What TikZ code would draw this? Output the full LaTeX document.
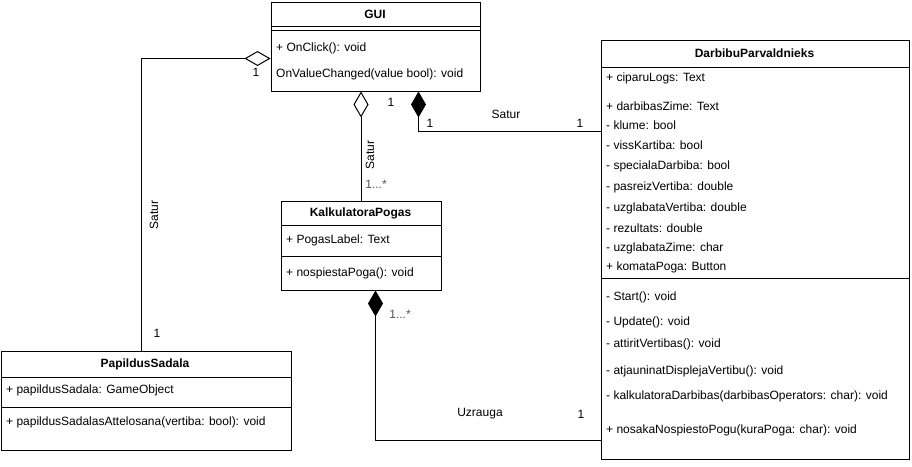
\documentclass[tikz,border=0pt]{standalone}
\usepackage{fontspec}
\setmainfont{Liberation Sans}
\usetikzlibrary{arrows.meta}
\definecolor{umlInk}{HTML}{000000}
\definecolor{umlMult}{HTML}{555555}

\begin{document}
\begin{tikzpicture}[x=1pt,y=-1pt,
		every node/.style={font=\fontsize{12}{14}\selectfont},
		cls/.style={draw=umlInk,line width=1pt,anchor=north west,inner sep=0pt},
		mem/.style={anchor=west,inner sep=0pt},
		ttl/.style={font=\fontsize{12}{14}\selectfont\bfseries,inner sep=0pt},
		lbl/.style={inner sep=0pt},
		agg/.style={draw=umlInk,line width=1pt,{Diamond[open,length=26pt,width=15pt]}-},
		comp/.style={draw=umlInk,line width=1pt,{Diamond[length=26pt,width=15pt]}-}]
		\useasboundingbox (0,0) rectangle (912,466);
		% classes
		\node[cls,minimum width=209pt,minimum height=89pt] (gui) at (270.5,1.5) {};
		\draw[line width=1pt] ([yshift=-25pt]gui.north west) -- ([yshift=-25pt]gui.north east);
		\draw[line width=1pt] ([yshift=-29pt]gui.north west) -- ([yshift=-29pt]gui.north east);
		\node[ttl] (guiT) at (375,14) {GUI};
		\node[mem] (guiM1) at (276,48) {+ OnClick(): void};
		\node[mem] (guiM2) at (276,74) {OnValueChanged(value bool): void};

		\node[cls,minimum width=308pt,minimum height=419pt] (darb) at (600.5,39.5) {};
		\draw[line width=1pt] ([yshift=-27.5pt]darb.north west) -- ([yshift=-27.5pt]darb.north east);
		\draw[line width=1pt] ([yshift=-238.5pt]darb.north west) -- ([yshift=-238.5pt]darb.north east);
		\node[ttl] (darbT) at (754.5,53) {DarbibuParvaldnieks};
		\foreach \y/\t [count=\i] in {78/{+ ciparuLogs: Text},106/{+ darbibasZime: Text},125/{- klume: bool},
				145/{- vissKartiba: bool},166/{- specialaDarbiba: bool},187/{- pasreizVertiba: double},
				208/{- uzglabataVertiba: double},228/{- rezultats: double},248/{- uzglabataZime: char},
				267/{+ komataPoga: Button}}
			\node[mem] (darbA\i) at (606,\y) {\t};
		\foreach \y/\t [count=\i] in {297/{- Start(): void},322/{- Update(): void},344/{- attiritVertibas(): void},
				371/{- atjauninatDisplejaVertibu(): void},396/{- kalkulatoraDarbibas(darbibasOperators: char): void},
				430/{+ nosakaNospiestoPogu(kuraPoga: char): void}}
			\node[mem] (darbM\i) at (606,\y) {\t};

		\node[cls,minimum width=160pt,minimum height=89pt] (kalk) at (280.5,200.5) {};
		\draw[line width=1pt] ([yshift=-24.5pt]kalk.north west) -- ([yshift=-24.5pt]kalk.north east);
		\draw[line width=1pt] ([yshift=-55.5pt]kalk.north west) -- ([yshift=-55.5pt]kalk.north east);
		\node[ttl] (kalkT) at (360.5,213) {KalkulatoraPogas};
		\node[mem] (kalkA1) at (286,240) {+ PogasLabel: Text};
		\node[mem] (kalkM1) at (286,273) {+ nospiestaPoga(): void};

		\node[cls,minimum width=290pt,minimum height=99.5pt] (pap) at (0.5,350.5) {};
		\draw[line width=1pt] ([yshift=-26.5pt]pap.north west) -- ([yshift=-26.5pt]pap.north east);
		\draw[line width=1pt] ([yshift=-56.5pt]pap.north west) -- ([yshift=-56.5pt]pap.north east);
		\node[ttl] (papT) at (145,364) {PapildusSadala};
		\node[mem] (papA1) at (6,390) {+ papildusSadala: GameObject};
		\node[mem] (papM1) at (6,422) {+ papildusSadalasAttelosana(vertiba: bool): void};

		% relations
		\draw[agg] ([yshift=-12pt]gui.west) -| ([xshift=-4.5pt]pap.north);
		\draw[agg] (gui.south -| kalk.north) -- (kalk.north);
		\draw[comp] ([xshift=43pt]gui.south) |- ([yshift=-92pt]darb.north west);
		\draw[comp] ([xshift=14.5pt]kalk.south) |- ([yshift=19pt]darb.south west);

		\node[lbl] (m1) at (256,72) {1};
		\node[lbl,rotate=90] (r1) at (154,215) {Satur};
		\node[lbl] (m2) at (157,333) {1};
		\node[lbl] (m3) at (391,102) {1};
		\node[lbl,rotate=90] (r2) at (370,155) {Satur};
		\node[lbl,text=umlMult] (m4) at (376,184) {1...*};
		\node[lbl] (m5) at (430,123) {1};
		\node[lbl] (r3) at (506,114) {Satur};
		\node[lbl] (m6) at (580,123) {1};
		\node[lbl,text=umlMult] (m7) at (400,314) {1...*};
		\node[lbl] (r4) at (480,414) {Uzrauga};
		\node[lbl] (m8) at (581,414) {1};
	\end{tikzpicture}
\end{document}
